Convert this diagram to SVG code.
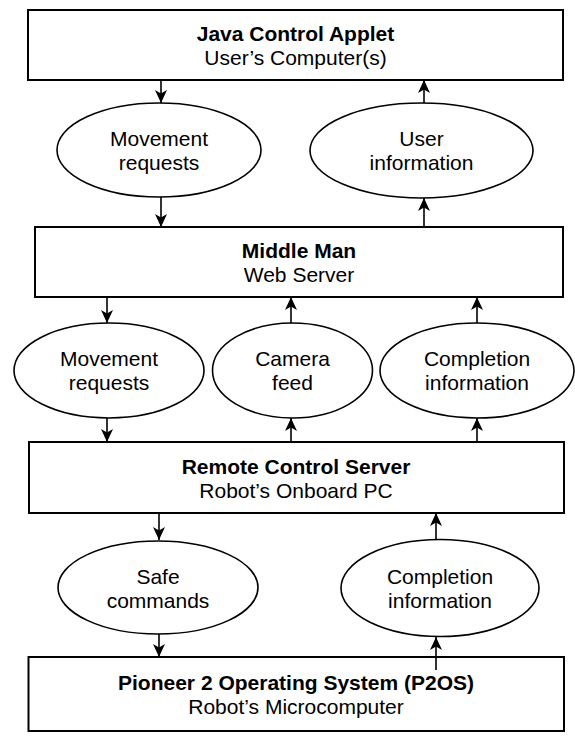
<svg xmlns="http://www.w3.org/2000/svg" width="575" height="736" viewBox="0 0 575 736">
<style>
.box{fill:#fff;stroke:#000;stroke-width:2}
.ell{fill:#fff;stroke:#000;stroke-width:1.6}
.t{font-family:"Liberation Sans",Arial,sans-serif;font-size:21px;fill:#000;text-anchor:middle}
.b{font-weight:bold}
.c{stroke:#000;stroke-width:1.6;fill:none;marker-end:url(#ah)}
</style>
<defs>
<marker id="ah" markerUnits="userSpaceOnUse" markerWidth="14" markerHeight="14" viewBox="0 0 14 14" refX="13" refY="7" orient="auto">
<path d="M0,1 L13,7 L0,13 L3.5,7 Z" fill="#000"/>
</marker>
</defs>
<rect width="575" height="736" fill="#fff"/>
<g id="connectors">
<line class="c" x1="161" y1="80" x2="161" y2="103"/>
<line class="c" x1="161" y1="197" x2="161" y2="227"/>
<line class="c" x1="424" y1="103" x2="424" y2="80"/>
<line class="c" x1="424" y1="227" x2="424" y2="198"/>
<line class="c" x1="107" y1="297" x2="107" y2="323"/>
<line class="c" x1="107" y1="418" x2="107" y2="442"/>
<line class="c" x1="291" y1="323" x2="291" y2="297"/>
<line class="c" x1="291" y1="442" x2="291" y2="418"/>
<line class="c" x1="477" y1="323" x2="477" y2="297"/>
<line class="c" x1="477" y1="442" x2="477" y2="418"/>
<line class="c" x1="159" y1="513" x2="159" y2="540"/>
<line class="c" x1="159" y1="634" x2="159" y2="657"/>
<line class="c" x1="436" y1="539" x2="436" y2="513"/>
</g>
<g id="box-java">
<rect class="box" x="28" y="10" width="535" height="70"/>
<text class="t b" x="295.5" y="41">Java Control Applet</text>
<text class="t" x="295.5" y="65">User’s Computer(s)</text>
</g>
<g id="ell-movement1">
<ellipse class="ell" cx="159" cy="150" rx="102" ry="47"/>
<text class="t" x="159" y="146">Movement</text>
<text class="t" x="159" y="170">requests</text>
</g>
<g id="ell-userinfo">
<ellipse class="ell" cx="421.5" cy="150.5" rx="111.5" ry="47.5"/>
<text class="t" x="421.5" y="146">User</text>
<text class="t" x="421.5" y="170">information</text>
</g>
<g id="box-middle">
<rect class="box" x="35" y="227" width="528" height="70"/>
<text class="t b" x="299" y="258">Middle Man</text>
<text class="t" x="299" y="282">Web Server</text>
</g>
<g id="ell-movement2">
<ellipse class="ell" cx="109" cy="370.5" rx="95" ry="47.5"/>
<text class="t" x="109" y="366">Movement</text>
<text class="t" x="109" y="390">requests</text>
</g>
<g id="ell-camera">
<ellipse class="ell" cx="292.5" cy="370.5" rx="80" ry="47.5"/>
<text class="t" x="292.5" y="366">Camera</text>
<text class="t" x="292.5" y="390">feed</text>
</g>
<g id="ell-completion1">
<ellipse class="ell" cx="477" cy="370.5" rx="97" ry="47.5"/>
<text class="t" x="477" y="366">Completion</text>
<text class="t" x="477" y="390">information</text>
</g>
<g id="box-remote">
<rect class="box" x="29" y="442" width="535" height="71"/>
<text class="t b" x="296" y="473.5">Remote Control Server</text>
<text class="t" x="296" y="497.5">Robot’s Onboard PC</text>
</g>
<g id="ell-safe">
<ellipse class="ell" cx="158" cy="587.5" rx="100" ry="46.5"/>
<text class="t" x="158" y="583.5">Safe</text>
<text class="t" x="158" y="607.5">commands</text>
</g>
<g id="ell-completion2">
<ellipse class="ell" cx="440" cy="588" rx="99" ry="48.5"/>
<text class="t" x="440" y="583.5">Completion</text>
<text class="t" x="440" y="607.5">information</text>
</g>
<g id="box-p2os">
<rect class="box" x="28.5" y="657" width="535.5" height="74"/>
<text class="t b" x="296" y="689.5">Pioneer 2 Operating System (P2OS)</text>
<text class="t" x="296" y="713.5">Robot’s Microcomputer</text>
<line class="c" x1="436" y1="670" x2="436" y2="637"/>
</g>
</svg>
